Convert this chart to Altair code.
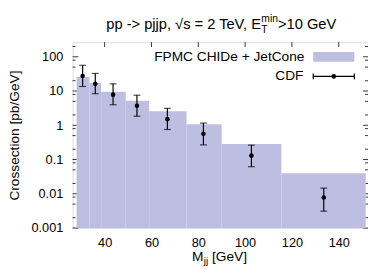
import altair as alt
import pandas as pd

# MC histogram (FPMC CHIDe + JetCone)
bin_lo = [28.0, 33.5, 38.5, 49.0, 59.0, 75.0, 90.0, 115.5]
bin_hi = [33.5, 38.5, 49.0, 59.0, 75.0, 90.0, 115.5, 151.5]
mc_val = [25.6, 17.3, 9.55, 5.18, 2.56, 1.07, 0.286, 0.040]

# CDF data points
cdf_x = [30.6, 36.0, 43.6, 53.8, 66.8, 82.2, 102.7, 133.6]
cdf_y = [27.4, 16.2, 7.84, 3.73, 1.51, 0.564, 0.130, 0.0078]
cdf_hi = [56.4, 32.7, 16.2, 7.54, 3.12, 1.16, 0.263, 0.0146]
cdf_lo = [13.6, 8.37, 3.98, 1.84, 0.754, 0.268, 0.0618, 0.0031]

x_ticks = [40, 60, 80, 100, 120, 140]
y_major = [0.001, 0.01, 0.1, 1, 10, 100]
y_minor = [m * d for d in [0.001, 0.01, 0.1, 1, 10, 100] for m in [2, 5, 8] if m * d < 268]

W, H = 302, 190
FONT = "Liberation Sans"
FILL = "#bebee2"

xs = alt.Scale(domain=[26.3, 152.5], nice=False, zero=False)
ys = alt.Scale(type="log", domain=[0.001, 268], nice=False)

hist = pd.DataFrame({"lo": bin_lo, "hi": bin_hi, "v": mc_val})
cdf = pd.DataFrame({"x": cdf_x, "y": cdf_y, "ylo": cdf_lo, "yhi": cdf_hi})
xt = pd.DataFrame({"x": x_ticks})
ymj = pd.DataFrame({"y": y_major})
ymn = pd.DataFrame({"y": y_minor})

xaxis = alt.Axis(values=x_ticks, title=None, ticks=False, tickSize=0, domain=False, grid=False,
                 labelFontSize=13, labelPadding=9, labelColor="black", labelFont=FONT)
yaxis = alt.Axis(values=y_major, format="~g", title="Crossection [pb/GeV]", ticks=False, tickSize=0,
                 domain=False, grid=False, labelFontSize=13, labelPadding=10, labelColor="black",
                 labelFont=FONT, titleFont=FONT, titleFontSize=14, titleFontWeight="normal",
                 titleColor="black", titleX=-59, titleY=95, titleAngle=270, titleAlign="center",
                 titleBaseline="middle")

tick_color = "#333333"
# ticks (inward)
t_top = alt.Chart(xt).mark_rule(color=tick_color).encode(
    x=alt.X("x:Q", scale=xs, axis=xaxis), y=alt.value(0), y2=alt.value(5))
t_bot = alt.Chart(xt).mark_rule(color=tick_color).encode(
    x=alt.X("x:Q", scale=xs), y=alt.value(H), y2=alt.value(H - 5))
t_lmaj = alt.Chart(ymj).mark_rule(color=tick_color).encode(
    y=alt.Y("y:Q", scale=ys, axis=yaxis), x=alt.value(0), x2=alt.value(6))
t_rmaj = alt.Chart(ymj).mark_rule(color=tick_color).encode(
    y=alt.Y("y:Q", scale=ys), x=alt.value(W), x2=alt.value(W - 5))
t_lmin = alt.Chart(ymn).mark_rule(color=tick_color).encode(
    y=alt.Y("y:Q", scale=ys), x=alt.value(0), x2=alt.value(3))
t_rmin = alt.Chart(ymn).mark_rule(color=tick_color).encode(
    y=alt.Y("y:Q", scale=ys), x=alt.value(W), x2=alt.value(W - 3))

bars = alt.Chart(hist).mark_rect(color=FILL).encode(
    x=alt.X("lo:Q", scale=xs), x2="hi:Q", y=alt.Y("v:Q", scale=ys), y2=alt.value(H))

err = alt.Chart(cdf).mark_rule(color="black", strokeWidth=1.2).encode(
    x=alt.X("x:Q", scale=xs), y=alt.Y("ylo:Q", scale=ys), y2="yhi:Q")
cap_lo = alt.Chart(cdf).mark_tick(color="black", orient="horizontal", size=7, thickness=1.2).encode(
    x=alt.X("x:Q", scale=xs), y=alt.Y("ylo:Q", scale=ys))
cap_hi = alt.Chart(cdf).mark_tick(color="black", orient="horizontal", size=7, thickness=1.2).encode(
    x=alt.X("x:Q", scale=xs), y=alt.Y("yhi:Q", scale=ys))
pts = alt.Chart(cdf).mark_circle(color="black", size=22, opacity=1).encode(
    x=alt.X("x:Q", scale=xs), y=alt.Y("y:Q", scale=ys))

one = pd.DataFrame({"a": [0]})

def txt(s, x, y, size=14, align="left", baseline="alphabetic"):
    return alt.Chart(one).mark_text(text=s, font=FONT, fontSize=size, align=align,
                                    baseline=baseline, color="black").encode(
        x=alt.value(x), y=alt.value(y))

# title
title_parts = [
    txt("pp -> pjjp, \u221as = 2 TeV, E", 192.6, -13, size=15, align="right"),
    txt("T", 193.0, -9, size=10.5),
    txt("min", 193.0, -20.5, size=10.5),
    txt(">10 GeV", 210.0, -13, size=15),
]
# x-axis title
xtitle = [
    txt("M", 133.7, 224, align="right"),
    txt("jj", 134.2, 227, size=10),
    txt("[GeV]", 142.5, 224),
]

# legend
leg_t1 = txt("FPMC CHIDe + JetCone", 237, 15, align="right", baseline="middle")
leg_t2 = txt("CDF", 236, 35, align="right", baseline="middle")
leg_box = alt.Chart(one).mark_rect(color=FILL).encode(
    x=alt.value(246), x2=alt.value(288), y=alt.value(10), y2=alt.value(20))
leg_line = alt.Chart(one).mark_rule(color="black", strokeWidth=1.2).encode(
    x=alt.value(246), x2=alt.value(288), y=alt.value(35))
leg_c1 = alt.Chart(one).mark_rule(color="black", strokeWidth=1.2).encode(
    x=alt.value(246), y=alt.value(32), y2=alt.value(38))
leg_c2 = alt.Chart(one).mark_rule(color="black", strokeWidth=1.2).encode(
    x=alt.value(288), y=alt.value(32), y2=alt.value(38))
leg_pt = alt.Chart(one).mark_circle(color="black", size=22, opacity=1).encode(
    x=alt.value(267), y=alt.value(35))

chart = alt.layer(
    t_top, t_bot, t_lmaj, t_rmaj, t_lmin, t_rmin,
    bars, err, cap_lo, cap_hi, pts,
    *title_parts, *xtitle,
    leg_box, leg_line, leg_c1, leg_c2, leg_pt, leg_t1, leg_t2,
).properties(
    width=W, height=H,
    autosize=alt.AutoSizeParams(type="none"),
    padding={"left": 66, "top": 32, "right": 0, "bottom": 39},
).configure_view(stroke="black", strokeWidth=1).configure(font=FONT)

chart.save("out.html", embed_options={"renderer": "svg", "actions": False})
